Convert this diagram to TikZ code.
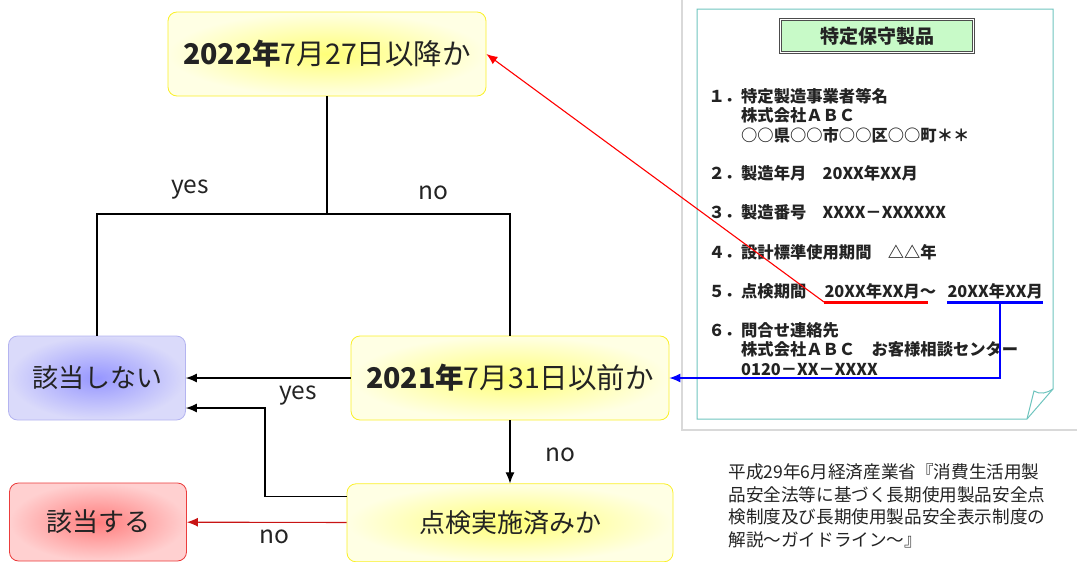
\documentclass[tikz,border=0pt]{standalone}
\usepackage{fontspec}
\setmainfont{Noto Sans CJK JP}
\usetikzlibrary{arrows.meta,positioning,calc}
\definecolor{qin}{RGB}{255,255,120}
\definecolor{qout}{RGB}{255,255,228}
\definecolor{qedge}{RGB}{250,240,40}
\definecolor{nin}{RGB}{150,150,255}
\definecolor{nout}{RGB}{218,218,250}
\definecolor{nedge}{RGB}{180,180,240}
\definecolor{ain}{RGB}{255,125,125}
\definecolor{aout}{RGB}{255,208,208}
\definecolor{aedge}{RGB}{235,60,60}
\definecolor{docline}{RGB}{110,196,190}
\definecolor{ttlfill}{RGB}{200,250,200}
\definecolor{txt}{RGB}{35,35,35}
\definecolor{darkred}{RGB}{200,20,20}
\tikzset{
decision/.style = {draw=qedge, line width=0.8pt, rounded corners=9pt, inner color=qin, outer color=qout, minimum width=318pt, minimum height=84pt, text=txt, font=\fontsize{28.5}{30}\selectfont},
nomatch/.style = {decision, draw=nedge, inner color=nin, outer color=nout, minimum width=177pt, font=\fontsize{26}{30}\selectfont},
match/.style = {decision, draw=aedge, inner color=ain, outer color=aout, minimum width=177pt, minimum height=78pt, font=\fontsize{26}{30}\selectfont},
lbl/.style = {text=txt, font=\fontsize{24.5}{26}\selectfont},
doctext/.style = {inner sep=0pt, anchor=base west, align=left, text=txt, font=\fontsize{16.3}{19.3}\selectfont\bfseries},
title/.style = {draw=black!70, double, double distance=1.3pt, fill=ttlfill, minimum width=193pt, minimum height=33pt, text=txt, font=\fontsize{19}{20}\selectfont\bfseries},
srcnote/.style = {inner sep=0pt, anchor=base west, align=left, text=txt, font=\fontsize{17.6}{22.5}\selectfont},
tmp/.style = {coordinate}
}
\begin{document}
\begin{tikzpicture}[x=1pt, y=-1pt, >={Latex[length=11pt,width=9pt]}, line width=1.1pt]
    \useasboundingbox (0,0) rectangle (1077,562);
    % flow chart
    \node [decision] (q1) at (327,54) {\textbf{2022年}7月27日以降か};
    \node [decision] (q2) at (510,378) {\textbf{2021年}7月31日以前か};
    \node [decision, minimum width=326pt, minimum height=78pt, below=63pt of q2, font=\fontsize{26}{30}\selectfont] (q3) {点検実施済みか};
    \node [nomatch] (no) at (97,378) {該当しない};
    \node [match] (yes) at (98,522) {該当する};
    \node [tmp] (fork) at (327,214) {};
    \node [tmp] (bend) at (265,408) {};
    \draw (q1) -- (fork);
    \draw (no.north) |- (fork) -| (q2.north);
    \node [lbl] (lyes1) at (190,190) {yes};
    \node [lbl] (lno1) at (433,193) {no};
    \draw [->] (q2) -- (no);
    \node [lbl] (lyes2) at (298,396) {yes};
    \draw [->] (q2) -- (q3);
    \node [lbl] (lno2) at (560,455) {no};
    \draw [->] ([yshift=26pt]q3.west) -| (bend) -- (bend -| no.east);
    \draw [->, darkred] (q3) -- (yes);
    \node [lbl] (lno3) at (274,537) {no};
    % label sheet (base of a multi-line node = its last line)
    \draw [black!15] (682,0) -- (682,430) -- (1077,430);
    \draw [docline, line width=1pt] (697,9) -- (1053,9) -- (1053,389) -- (1027,419) -- (697,419) -- cycle;
    \draw [docline, line width=1pt] (1027,419) -- (1034,391) .. controls (1040,395) and (1047,393) .. (1053,389);
    \node [title] (ttl) at (877,36) {特定保守製品};
    \node [doctext] (item1) at (708,141) {１．特定製造事業者等名\\　　株式会社ＡＢＣ\\　　○○県○○市○○区○○町＊＊};
    \node [doctext] (item2) at (708,179) {２．製造年月　20XX年XX月};
    \node [doctext] (item3) at (708,218) {３．製造番号　XXXX－XXXXXX};
    \node [doctext] (item4) at (708,258) {４．設計標準使用期間　△△年};
    \node [doctext] (item5) at (708,297) {５．点検期間};
    \node [doctext] (from) at (824,297) {20XX年XX月～};
    \node [doctext] (until) at (947,297) {20XX年XX月};
    \node [doctext] (item6) at (708,375) {６．問合せ連絡先\\　　株式会社ＡＢＣ　お客様相談センター\\　　0120－XX－XXXX};
    \draw [red, line width=3pt] ([yshift=-5pt]from.base west) -- ++(104,0);
    \draw [blue, line width=3pt] ([yshift=-5pt]until.base west) -- ([yshift=-5pt]until.base east);
    \node [tmp] (bluetap) at (1000,302) {};
    \draw [->, red] ([yshift=-5pt]from.base west) -- (q1.east);
    \draw [->, blue] (bluetap) |- (q2.east);
    \node [srcnote] (src) at (728,546) {平成29年6月経済産業省『消費生活用製\\品安全法等に基づく長期使用製品安全点\\検制度及び長期使用製品安全表示制度の\\解説～ガイドライン～』};
\end{tikzpicture}
\end{document}
